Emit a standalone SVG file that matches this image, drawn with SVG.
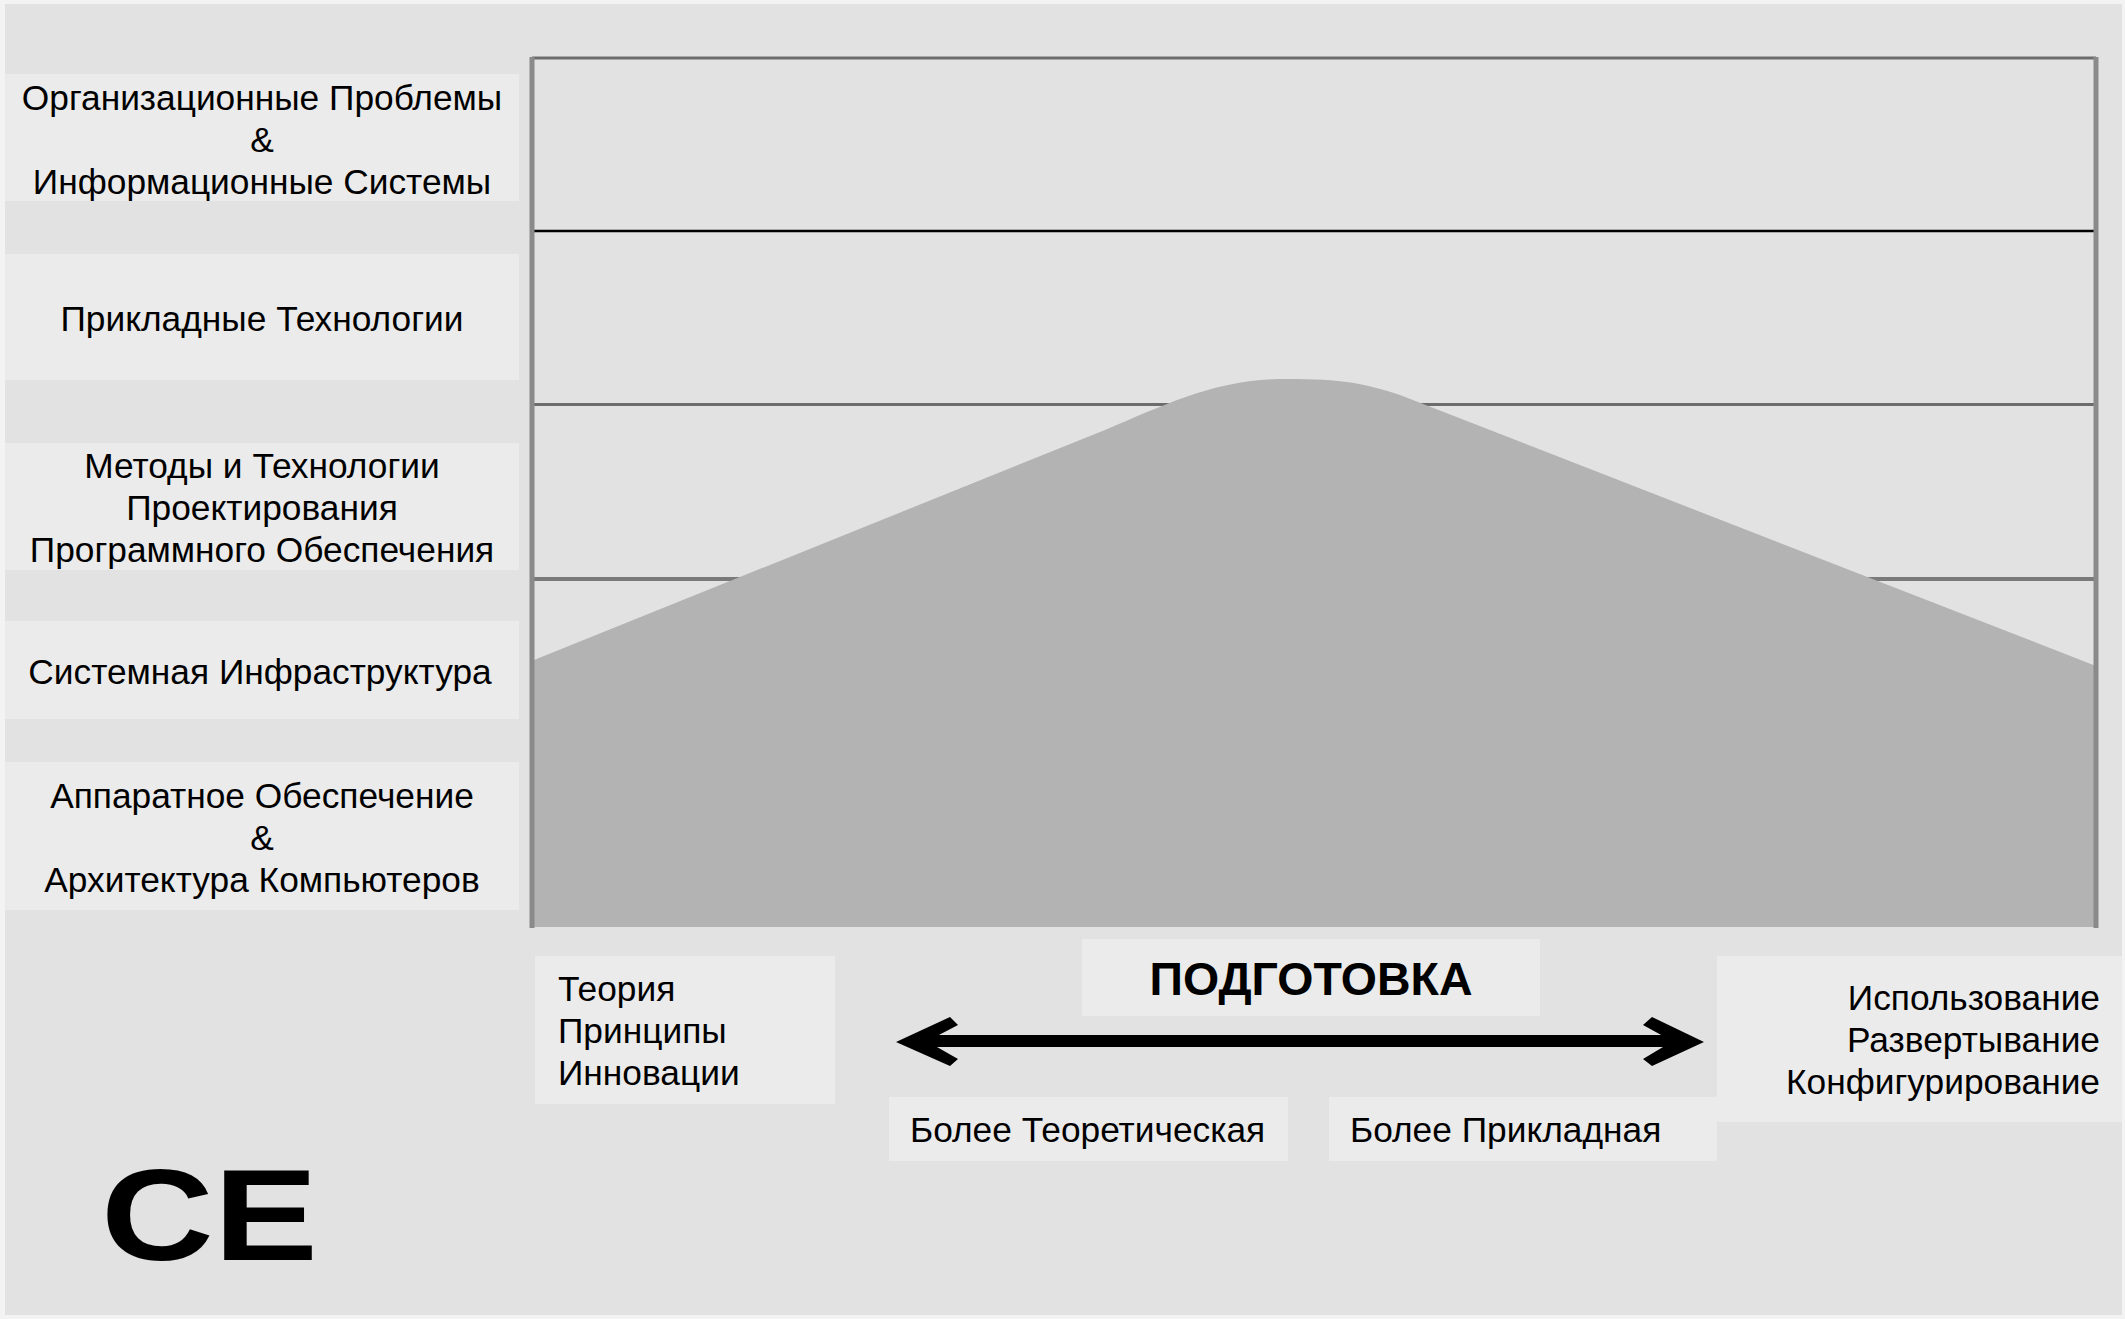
<svg xmlns="http://www.w3.org/2000/svg" width="2125" height="1319" viewBox="0 0 2125 1319">
<defs>
<style>
.bg{fill:#e2e2e2}
.box{fill:#ebebeb}
.t{font-family:"Liberation Sans",Arial,sans-serif;font-size:35.3px;fill:#000}
.c{text-anchor:middle}
.r{text-anchor:end}
.grid{stroke:#6c6c6c;stroke-width:3;fill:none}
.frame{stroke:#8a8a8a;stroke-width:5;fill:none}
</style>
</defs>
<rect x="0" y="0" width="2125" height="1319" fill="#f3f3f3"/>
<rect class="bg" x="5" y="4" width="2117" height="1311"/>

<g id="chart">
  <line class="grid" x1="532" y1="58" x2="2096" y2="58"/>
  <line x1="532" y1="231" x2="2096" y2="231" stroke="#000" stroke-width="2.5"/>
  <line class="grid" x1="532" y1="404.5" x2="2096" y2="404.5"/>
  <line x1="532" y1="579" x2="2096" y2="579" stroke="#7a7a7a" stroke-width="4"/>
  <line x1="532" y1="752" x2="2096" y2="752" stroke="#6c6c6c" stroke-width="3"/>
  <path id="mound" d="M534,660 L1105,430 C1165,405 1215,379 1285,379 C1345,379 1362,383 1400,395 L2096,666 L2096,927 L534,927 Z" fill="#b3b3b3"/>
  <line class="frame" x1="532" y1="57" x2="532" y2="928"/>
  <line class="frame" x1="2096" y1="57" x2="2096" y2="928"/>
</g>

<g id="label-org">
  <rect class="box" x="5" y="74" width="514" height="127"/>
  <text class="t c" x="262" y="110">Организационные Проблемы</text>
  <text class="t c" x="262" y="152">&amp;</text>
  <text class="t c" x="262" y="194">Информационные Системы</text>
</g>
<g id="label-app">
  <rect class="box" x="5" y="254" width="514" height="126"/>
  <text class="t c" x="262" y="331">Прикладные Технологии</text>
</g>
<g id="label-sw">
  <rect class="box" x="5" y="443" width="514" height="127"/>
  <text class="t c" x="262" y="478">Методы и Технологии</text>
  <text class="t c" x="262" y="520">Проектирования</text>
  <text class="t c" x="262" y="562">Программного Обеспечения</text>
</g>
<g id="label-sys">
  <rect class="box" x="5" y="621" width="514" height="98"/>
  <text class="t c" x="260" y="684">Системная Инфраструктура</text>
</g>
<g id="label-hw">
  <rect class="box" x="5" y="762" width="514" height="148"/>
  <text class="t c" x="262" y="808">Аппаратное Обеспечение</text>
  <text class="t c" x="262" y="850">&amp;</text>
  <text class="t c" x="262" y="892">Архитектура Компьютеров</text>
</g>

<g id="theory">
  <rect class="box" x="535" y="956" width="300" height="148"/>
  <text class="t" x="558" y="1001">Теория</text>
  <text class="t" x="558" y="1043">Принципы</text>
  <text class="t" x="558" y="1085">Инновации</text>
</g>
<g id="training">
  <rect class="box" x="1082" y="939" width="458" height="77"/>
  <text x="1311" y="995" text-anchor="middle" font-family="Liberation Sans, Arial, sans-serif" font-size="46.5" font-weight="bold">ПОДГОТОВКА</text>
</g>
<g id="more-theory">
  <rect class="box" x="889" y="1097" width="399" height="64"/>
  <text class="t" x="910" y="1142">Более Теоретическая</text>
</g>
<g id="more-applied">
  <rect class="box" x="1329" y="1097" width="388" height="64"/>
  <text class="t" x="1350" y="1142">Более Прикладная</text>
</g>
<g id="usage">
  <rect class="box" x="1717" y="956" width="405" height="166"/>
  <text class="t r" x="2100" y="1010">Использование</text>
  <text class="t r" x="2100" y="1052">Развертывание</text>
  <text class="t r" x="2100" y="1094">Конфигурирование</text>
</g>

<g id="connectors">
  <rect x="930" y="1035" width="740" height="12" fill="#000"/>
  <polygon points="896,1042 950,1017 958,1025 937,1036 937,1047 958,1059 950,1066" fill="#000"/>
  <polygon points="1704,1042 1652,1017 1643,1025 1663,1036 1663,1047 1643,1059 1652,1066" fill="#000"/>
</g>

<g id="ce">
  <text x="101" y="1260" font-family="Liberation Sans, Arial, sans-serif" font-size="130" font-weight="bold" textLength="217" lengthAdjust="spacingAndGlyphs">CE</text>
</g>
</svg>
